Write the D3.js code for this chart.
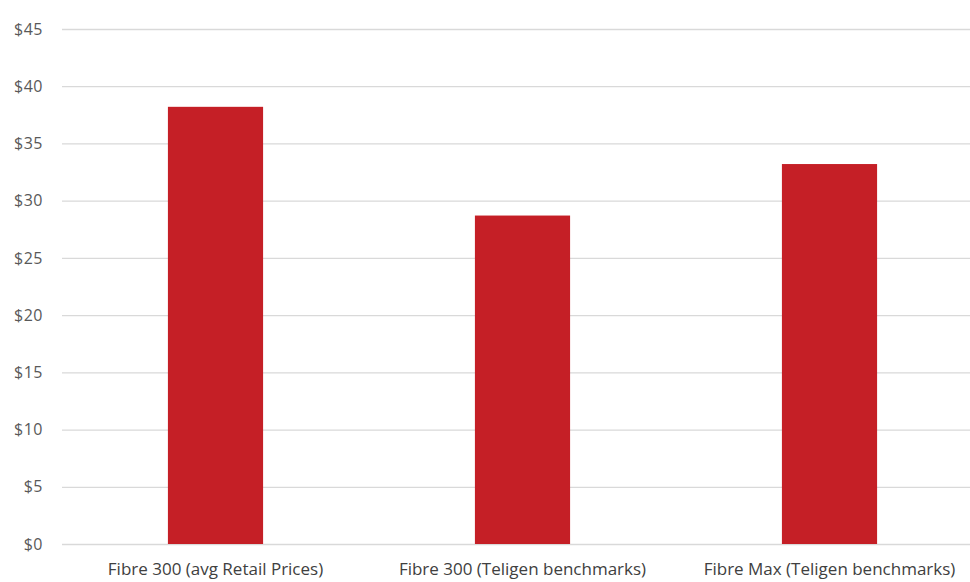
<!DOCTYPE html>
<html>
<head>
<meta charset="utf-8">
<script src="https://cdn.jsdelivr.net/npm/d3@7"></script>
<style>
  html, body { margin: 0; padding: 0; background: #fff; }
  svg { display: block; }
  text { font-family: "Open Sans", Lato, sans-serif; }
</style>
</head>
<body>
<svg id="chart" width="970" height="582"></svg>
<script>
const categories = ["Fibre 300 (avg Retail Prices)", "Fibre 300 (Teligen benchmarks)", "Fibre Max (Teligen benchmarks)"];
const values = [38.2, 28.7, 33.2];
const yTicks = [0, 5, 10, 15, 20, 25, 30, 35, 40, 45];

const svg = d3.select("#chart");
const W = 970, H = 582;
const x0 = 62, x1 = 983, yTop = 29, yBottom = 544;

const x = d3.scaleBand().domain(categories).range([x0, x1]).paddingInner(0.69).paddingOuter(0.345);
const y = d3.scaleLinear().domain([0, 45]).range([yBottom, yTop]);

// gridlines
svg.append("g").selectAll("line").data(yTicks).join("line")
  .attr("x1", x0).attr("x2", W)
  .attr("y1", d => y(d) + 0.5).attr("y2", d => y(d) + 0.5)
  .attr("stroke", "#d9d9d9").attr("stroke-width", 1.3);

// y axis labels
const yAxis = d3.axisLeft(y).tickValues(yTicks).tickSize(0).tickPadding(0).tickFormat(d => "$" + d);
const gy = svg.append("g").attr("transform", "translate(43,0)").call(yAxis);
gy.select(".domain").remove();
gy.selectAll("text").attr("fill", "#595959").style("font-size", "16px").style("letter-spacing", "0.5px").style("font-family", "'Open Sans', Lato, sans-serif");

// bars
svg.append("g").selectAll("rect").data(values).join("rect")
  .attr("x", (d, i) => x(categories[i]))
  .attr("width", x.bandwidth())
  .attr("y", d => y(d))
  .attr("height", d => y(0) - y(d))
  .attr("fill", "#c51f26");

// x axis labels
const xAxis = d3.axisBottom(x).tickSize(0).tickPadding(0);
const gx = svg.append("g").attr("transform", `translate(0,${yBottom + 19})`).call(xAxis);
gx.select(".domain").remove();
gx.selectAll("text").attr("fill", "#404040").style("font-size", "17px").style("font-family", "'Open Sans', Lato, sans-serif");
</script>
</body>
</html>
